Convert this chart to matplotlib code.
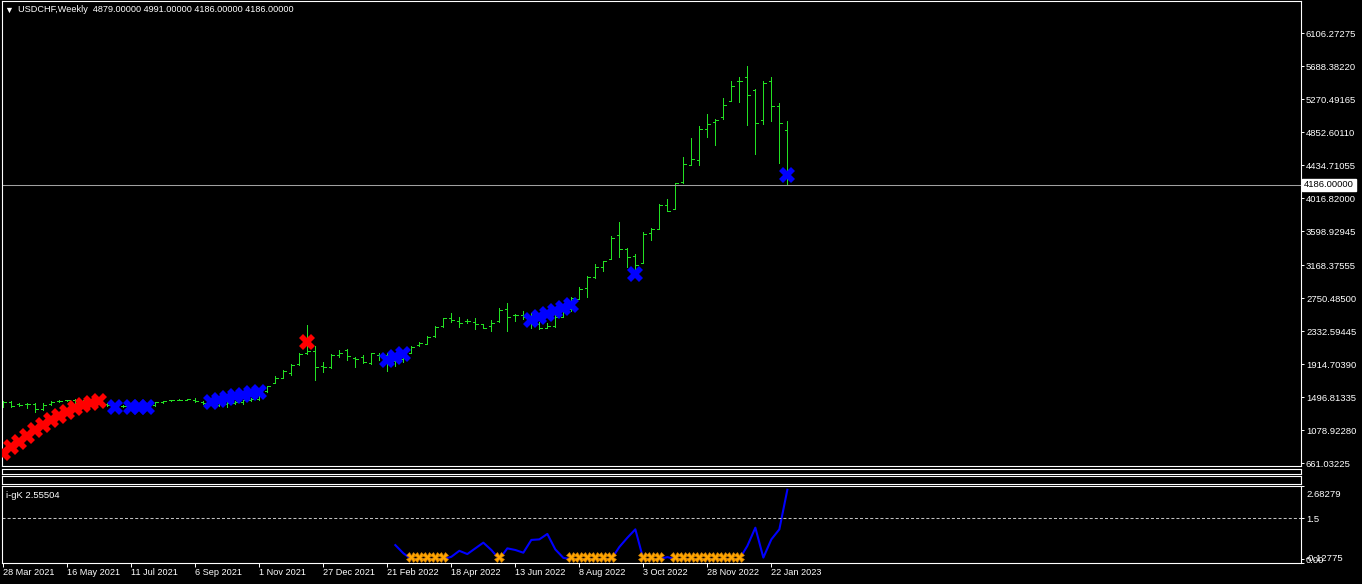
import matplotlib
matplotlib.use("Agg")
import matplotlib.pyplot as plt
from matplotlib.collections import LineCollection
from matplotlib.transforms import ScaledTranslation
import numpy as np

plt.rcParams['font.family'] = ['Liberation Sans', 'DejaVu Sans']

symbol = "USDCHF"
period = "Weekly"

# weekly bars (bar 0 = 28 Mar 2021)
open_ = [1395, 1442, 1413, 1413, 1413, 1346, 1413, 1447, 1458, 1460,
         1445, 1462, 1468, 1415, 1395, 1390, 1392, 1400, 1395, 1395,
         1438, 1460, 1462, 1470, 1470, 1442, 1420, 1405, 1418, 1430,
         1440, 1460, 1478, 1575, 1683, 1746, 1802, 1920, 2055, 2090,
         1895, 1878, 2030, 2097, 2000, 2012, 1936, 2030, 2030, 1960,
         1980, 2063, 2160, 2175, 2274, 2401, 2498, 2464, 2464, 2455,
         2422, 2401, 2464, 2612, 2540, 2540, 2500, 2420, 2380, 2401,
         2518, 2610, 2746, 2878, 3017, 3144, 3245, 3553, 3372, 3287,
         3195, 3574, 3633, 3933, 3878, 4220, 4435, 4499, 4891, 4980,
         5043, 5253, 5499, 5549, 5385, 5005, 5499, 5182, 4879]
high = [1450, 1450, 1422, 1430, 1430, 1422, 1451, 1464, 1470, 1475,
        1470, 1478, 1480, 1425, 1415, 1405, 1410, 1415, 1412, 1442,
        1455, 1470, 1472, 1480, 1485, 1455, 1430, 1425, 1440, 1450,
        1470, 1485, 1570, 1645, 1768, 1844, 1920, 2055, 2413, 2147,
        1949, 2046, 2097, 2106, 2012, 2034, 2055, 2063, 2055, 2000,
        2030, 2147, 2202, 2268, 2401, 2506, 2565, 2515, 2490, 2502,
        2426, 2477, 2632, 2692, 2553, 2590, 2565, 2455, 2443, 2540,
        2625, 2764, 2895, 3034, 3186, 3227, 3540, 3717, 3385, 3312,
        3591, 3638, 3945, 4009, 4215, 4540, 4781, 4933, 5085, 5021,
        5291, 5506, 5549, 5692, 5401, 5502, 5553, 5224, 4991]
low = [1372, 1372, 1388, 1359, 1308, 1340, 1401, 1438, 1445, 1430,
       1440, 1450, 1445, 1385, 1380, 1375, 1380, 1385, 1382, 1390,
       1425, 1455, 1458, 1468, 1443, 1413, 1395, 1390, 1375, 1410,
       1415, 1445, 1470, 1565, 1675, 1738, 1780, 1907, 2040, 1717,
       1822, 1865, 2012, 1970, 1878, 1936, 1920, 1970, 1825, 1900,
       1950, 2063, 2147, 2170, 2265, 2392, 2455, 2392, 2435, 2363,
       2375, 2341, 2455, 2341, 2468, 2490, 2375, 2358, 2370, 2392,
       2518, 2590, 2743, 2772, 3008, 3101, 3245, 3271, 3144, 3088,
       3195, 3489, 3633, 3861, 3878, 4215, 4435, 4443, 4797, 4692,
       5025, 5253, 5240, 4949, 4582, 4962, 5000, 4468, 4186]
close = [1442, 1388, 1401, 1413, 1346, 1405, 1442, 1453, 1460, 1445,
         1462, 1468, 1420, 1395, 1400, 1392, 1400, 1395, 1405, 1438,
         1452, 1462, 1465, 1476, 1450, 1420, 1405, 1418, 1430, 1440,
         1460, 1478, 1560, 1640, 1746, 1835, 1907, 2046, 2090, 1885,
         1880, 2034, 2063, 2021, 1979, 1941, 2055, 2035, 1960, 1980,
         2020, 2139, 2182, 2262, 2392, 2498, 2477, 2435, 2464, 2426,
         2375, 2435, 2603, 2511, 2540, 2510, 2420, 2380, 2400, 2518,
         2600, 2750, 2865, 3017, 3152, 3224, 3511, 3372, 3271, 3173,
         3566, 3629, 3933, 3861, 4207, 4448, 4511, 4891, 4954, 5009,
         5195, 5439, 5499, 5321, 4967, 5473, 5182, 4967, 4186]

# signal crosses on the price chart
red_bars = [0, 1, 2, 3, 4, 5, 6, 7, 8, 9, 10, 11, 12, 38]
red_vals = [789, 873, 936, 1008, 1084, 1147, 1211, 1261, 1316, 1359,
            1401, 1430, 1445, 2202]
blue_bars = [14, 16, 17, 18, 26, 27, 28, 29, 30, 31, 32, 48, 49, 50,
             66, 67, 68, 69, 70, 71, 79, 98]
blue_vals = [1375, 1375, 1375, 1375, 1439, 1464, 1489, 1508, 1527, 1546,
             1565, 1970, 2008, 2046, 2477, 2515, 2553, 2591, 2629, 2667,
             3059, 4312]

# i-gK indicator
nan = np.nan
gk = [nan] * 49 + [
    0.52, 0.22, 0.0, 0.0, 0.0, 0.0, 0.0, 0.09, 0.31, 0.19,
    0.40, 0.61, 0.34, 0.0, 0.40, 0.34, 0.24, 0.71, 0.73, 0.93,
    0.36, 0.05, 0.0, 0.0, 0.0, 0.0, 0.0, 0.0, 0.45, 0.79,
    1.10, 0.0, 0.0, 0.0, 0.08, 0.0, 0.0, 0.0, 0.0, 0.0,
    0.0, 0.0, 0.0, 0.0, 0.49, 1.16, 0.06, 0.73, 1.10, 2.55504]
gk_mark_bars = [51, 52, 53, 54, 55, 62, 71, 72, 73, 74, 75, 76,
                80, 81, 82, 84, 85, 86, 87, 88, 89, 90, 91, 92]
gk_mark_val = 0.08
gk_level = 1.5
gk_min, gk_max = -0.12775, 2.68279

price_ticks = [6106.27275, 5688.38220, 5270.49165, 4852.60110, 4434.71055,
               4016.82000, 3598.92945, 3168.37555, 2750.48500, 2332.59445,
               1914.70390, 1496.81335, 1078.92280, 661.03225]
date_bars = [0, 8, 16, 24, 32, 40, 48, 56, 64, 72, 80, 88, 96]
date_labels = ["28 Mar 2021", "16 May 2021", "11 Jul 2021", "6 Sep 2021",
               "1 Nov 2021", "27 Dec 2021", "21 Feb 2022", "18 Apr 2022",
               "13 Jun 2022", "8 Aug 2022", "3 Oct 2022", "28 Nov 2022",
               "22 Jan 2023"]

W, H = 1362, 584
FS = 6.8


def box(x0, y0, x1, y1):
    # pixel box (top-left origin) -> figure fraction
    return [x0 / W, (H - y1) / H, (x1 - x0) / W, (y1 - y0) / H]


def style(a):
    a.set_facecolor("black")
    for s in a.spines.values():
        s.set_color("white")
        s.set_linewidth(0.8)
    a.set_xlim(-0.16, 162.2)


fig = plt.figure(figsize=(W / 100, H / 100), dpi=100, facecolor="black")
ax = fig.add_axes(box(2, 1, 1301, 466))
pa = fig.add_axes(box(2, 468.7, 1301, 474.3))
pb = fig.add_axes(box(2, 476.3, 1301, 484))
ai = fig.add_axes(box(2, 486.3, 1301, 562.7))
for a in (ax, pa, pb, ai):
    style(a)
for a in (pa, pb):
    a.set_xticks([])
    a.set_yticks([])

# OHLC bars
segs = []
for k in range(len(close)):
    segs.append([(k, low[k]), (k, high[k])])
    segs.append([(k - 0.3, open_[k]), (k, open_[k])])
    segs.append([(k, close[k]), (k + 0.3, close[k])])
ax.add_collection(LineCollection(segs, colors="#22e022", linewidths=0.7,
                                 antialiaseds=False))
ax.axhline(close[-1], color="#a0a0a0", lw=0.75)
ax.plot(red_bars, red_vals, "X", color="#ff0000", ms=12, mew=0, zorder=5)
ax.plot(blue_bars, blue_vals, "X", color="#0000ff", ms=12, mew=0, zorder=5)
ax.set_ylim(628.1, 6515.2)
ax.set_xticks([])
ax.yaxis.tick_right()
ax.set_yticks(price_ticks)
ax.set_yticklabels(["%.5f" % v for v in price_ticks])
ax.tick_params(axis="y", colors="white", length=2.2, width=0.7, pad=1.4,
               labelsize=FS)
ax.annotate("%.5f" % close[-1], xy=(1, close[-1]),
            xycoords=("axes fraction", "data"), xytext=(2.2, 0),
            textcoords="offset points", va="center", ha="left",
            fontsize=FS, color="black",
            bbox=dict(boxstyle="square,pad=0.2", fc="white", ec="white"))

fig.text(4 / W, 1 - 10 / H, "\u25bc", color="white", fontsize=6.5,
         va="center")
fig.text(18 / W, 1 - 10 / H,
         "%s,%s  %.5f %.5f %.5f %.5f" % (symbol, period, open_[-1], high[-1],
                                          low[-1], close[-1]),
         color="white", fontsize=6.6, va="center")

# indicator window
ai.plot(np.arange(len(gk)), gk, color="#0000ff", lw=1.5)
ai.plot(gk_mark_bars, [gk_mark_val] * len(gk_mark_bars), "X",
        color="#ffa500", mec="#c87800", mew=0.4, ms=7, zorder=5)
ai.axhline(gk_level, color="#c0c0c0", lw=0.75, ls=(0, (2.9, 2.0)))
ai.set_ylim(gk_min, gk_max)
ai.yaxis.tick_right()
gk_ticks = [gk_max, gk_level, 0.0, gk_min]
ai.set_yticks(gk_ticks)
ai.set_yticklabels(["%.5f" % gk_max, "1.5", "0.00", "%.5f" % gk_min])
ai.tick_params(axis="y", colors="white", length=2.2, width=0.7, pad=1.4,
               labelsize=FS)
labs = ai.get_yticklabels()
labs[0].set_transform(labs[0].get_transform() +
                      ScaledTranslation(0, -5 / 72, fig.dpi_scale_trans))
labs[3].set_transform(labs[3].get_transform() +
                      ScaledTranslation(0, 4 / 72, fig.dpi_scale_trans))
ai.text(0.003, 0.885, "i-gK %.5f" % gk[-1], transform=ai.transAxes,
        color="white", fontsize=FS, va="center", ha="left")

ai.set_xticks(date_bars)
ai.set_xticklabels(date_labels, ha="left")
ai.tick_params(axis="x", colors="white", length=2.9, width=0.7, pad=0.8,
               labelsize=6.6)

fig.savefig("out.png", dpi=100, facecolor="black")
